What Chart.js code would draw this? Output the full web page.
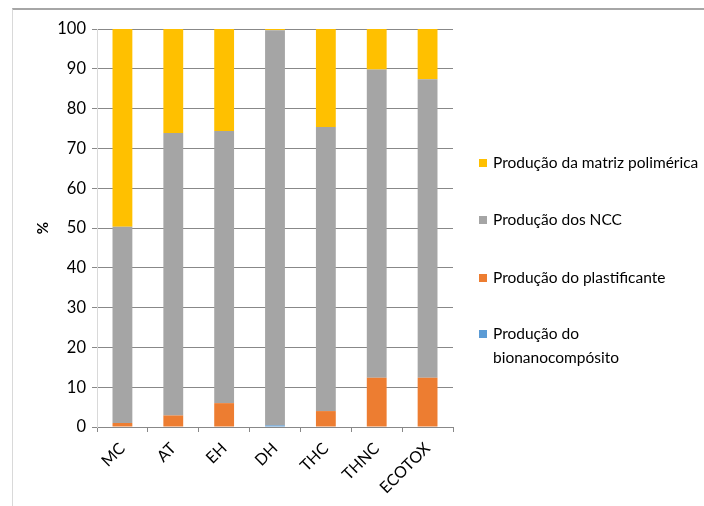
<!DOCTYPE html>
<html>
<head>
<meta charset="utf-8">
<script src="https://cdn.jsdelivr.net/npm/chart.js@4/dist/chart.umd.min.js"></script>
<style>
  html, body { margin: 0; padding: 0; background: #fff; }
  #wrap { position: relative; width: 704px; height: 506px; }
  #frame { position: absolute; left: 12px; top: 8px; width: 700px; height: 510px;
           border-left: 1px solid #d9d9d9; border-top: 2px solid #a6a6a6; box-sizing: border-box; }
  canvas { position: absolute; left: 0; top: 0; }
</style>
</head>
<body>
<div id="wrap">
  <div id="frame"></div>
  <canvas id="c" width="704" height="506"></canvas>
</div>
<script>
const categories = ['MC', 'AT', 'EH', 'DH', 'THC', 'THNC', 'ECOTOX'];
const seriesNames = ['Produção do bionanocompósito', 'Produção do plastificante', 'Produção dos NCC', 'Produção da matriz polimérica'];
const bionanocomposito = [0, 0, 0, 0.4, 0, 0, 0];
const plastificante = [1, 2.9, 6, 0, 4, 12.4, 12.4];
const ncc = [49.3, 71, 68.4, 99.3, 71.4, 77.4, 75];
const matriz = [49.7, 26.1, 25.6, 0.3, 24.6, 10.2, 12.6];
const yTicks = [0, 10, 20, 30, 40, 50, 60, 70, 80, 90, 100];
const colors = ['#5B9BD5', '#ED7D31', '#A5A5A5', '#FFC000'];

const FONT = 'Lato, "Noto Sans", sans-serif';

const legendPlugin = {
  id: 'sideLegend',
  afterDraw(chart) {
    const ctx = chart.ctx;
    const ds = chart.data.datasets.slice().reverse();
    const ys = [163, 220, 278, 334];
    ctx.save();
    ctx.font = '15.5px ' + FONT;
    ctx.textBaseline = 'middle';
    ds.forEach((d, i) => {
      const y = ys[i];
      ctx.fillStyle = d.backgroundColor;
      ctx.fillRect(479, y - 4, 8, 8);
      ctx.fillStyle = '#000';
      const words = d.label.split(' ');
      const lines = [];
      let cur = '';
      words.forEach(w => {
        const t = cur ? cur + ' ' + w : w;
        if (ctx.measureText(t).width > 208 && cur) { lines.push(cur); cur = w; } else { cur = t; }
      });
      lines.push(cur);
      if (d.label === 'Produção do bionanocompósito') { lines.length = 0; lines.push('Produção do', 'bionanocompósito'); }
      lines.forEach((ln, k) => ctx.fillText(ln, 493, y + k * 24));
    });
    ctx.restore();
  }
};

new Chart(document.getElementById('c'), {
  type: 'bar',
  data: {
    labels: categories,
    datasets: [
      { label: seriesNames[0], data: bionanocomposito, backgroundColor: colors[0] },
      { label: seriesNames[1], data: plastificante, backgroundColor: colors[1] },
      { label: seriesNames[2], data: ncc, backgroundColor: colors[2] },
      { label: seriesNames[3], data: matriz, backgroundColor: colors[3] }
    ]
  },
  options: {
    responsive: false,
    animation: false,
    devicePixelRatio: 1,
    layout: { padding: { left: 34, top: 29, right: 251, bottom: 0 } },
    datasets: { bar: { categoryPercentage: 1, barPercentage: 0.39, borderWidth: 0 } },
    plugins: { legend: { display: false }, tooltip: { enabled: false } },
    scales: {
      x: {
        stacked: true,
        grid: { offset: true, drawOnChartArea: false, drawTicks: true, tickLength: 5, color: '#888' },
        border: { color: '#888', width: 1 },
        ticks: { color: '#000', font: { family: FONT, size: 16 }, minRotation: 45, maxRotation: 45, padding: 7 },
        afterFit(s) { s.height = 79; }
      },
      y: {
        stacked: true,
        min: 0, max: 100,
        afterBuildTicks(s) { s.ticks = yTicks.map(v => ({ value: v })); },
        grid: { color: '#888', tickLength: 5, drawTicks: true },
        border: { color: '#d9d9d9', width: 1 },
        ticks: { color: '#000', font: { family: FONT, size: 16.5 }, padding: 6 },
        title: { display: true, text: '%', color: '#000', font: { family: FONT, size: 15, weight: 'bold' }, padding: 0 },
        afterFit(s) { s.width = 63; }
      }
    }
  },
  plugins: [legendPlugin]
});
</script>
</body>
</html>
